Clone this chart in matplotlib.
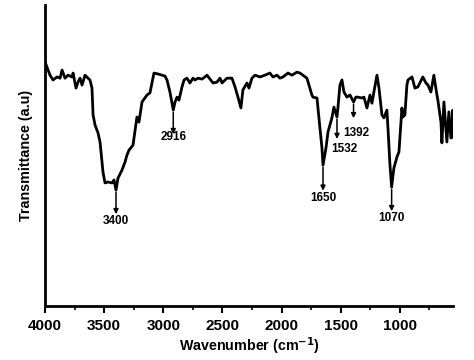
import numpy as np
import matplotlib
matplotlib.use('Agg')
import matplotlib.pyplot as plt
from matplotlib.ticker import MultipleLocator

# FTIR spectrum (wavenumber in cm-1, transmittance in a.u.)
wavenumber = [4000, 3958, 3932, 3899, 3873, 3856, 3831, 3806, 3772, 3763, 3738, 3721, 3704,
              3687, 3662, 3637, 3620, 3603, 3594, 3577, 3552, 3535, 3518, 3510, 3493, 3468,
              3434, 3417, 3400, 3383, 3349, 3324, 3307, 3290, 3256, 3223, 3206, 3180, 3138,
              3113, 3079, 3045, 3011, 2986, 2969, 2944, 2916, 2901, 2884, 2868, 2842, 2825,
              2800, 2775, 2749, 2732, 2707, 2673, 2648, 2631, 2606, 2580, 2546, 2521, 2504,
              2462, 2420, 2394, 2369, 2344, 2327, 2293, 2276, 2251, 2225, 2183, 2141, 2099,
              2073, 2039, 2014, 1989, 1946, 1913, 1870, 1845, 1820, 1786, 1769, 1744, 1735,
              1701, 1693, 1676, 1659, 1650, 1625, 1608, 1575, 1558, 1532, 1524, 1507, 1490,
              1473, 1448, 1422, 1392, 1372, 1355, 1321, 1304, 1279, 1253, 1236, 1220, 1194,
              1177, 1152, 1135, 1110, 1101, 1084, 1070, 1051, 1025, 1008, 983, 975, 958,
              941, 932, 898, 873, 848, 806, 780, 763, 738, 713, 687, 679, 653, 645, 628,
              603, 586, 569, 552, 548]
transmittance = [81.1, 76.7, 75.1, 76.1, 75.7, 78.4, 75.7, 76.7, 76.1, 77.4, 72.4, 74.4, 75.7,
                 73.4, 76.7, 75.7, 75.1, 72.4, 63.5, 60.1, 57.5, 54.5, 47.8, 44.5, 40.9, 41.2,
                 40.9, 41.9, 38.5, 42.5, 45.2, 47.8, 50.2, 51.8, 53.5, 62.8, 61.1, 67.8, 70.1,
                 70.8, 77.4, 77.1, 76.7, 76.4, 75.1, 71.1, 65.1, 67.8, 69.4, 68.4, 72.8, 75.1,
                 75.7, 74.1, 75.7, 75.1, 75.7, 75.4, 76.1, 76.7, 75.4, 74.1, 74.4, 75.7, 74.1,
                 75.7, 75.7, 72.8, 69.4, 65.8, 71.8, 74.1, 72.4, 75.7, 76.7, 76.1, 76.7, 77.4,
                 76.1, 76.7, 75.7, 76.1, 77.4, 76.7, 77.7, 77.4, 76.7, 75.7, 73.4, 70.1, 69.4,
                 69.1, 65.8, 59.1, 52.5, 46.8, 52.5, 57.8, 62.5, 66.1, 62.8, 65.8, 73.4, 75.1,
                 71.1, 69.4, 70.1, 67.8, 69.4, 69.4, 69.1, 69.4, 65.8, 70.1, 67.4, 71.1, 76.7,
                 72.4, 63.5, 62.5, 65.1, 59.1, 46.8, 39.5, 45.8, 49.5, 51.2, 65.8, 62.8, 63.5,
                 73.4, 75.1, 76.1, 72.4, 72.8, 76.1, 74.1, 73.4, 71.1, 76.7, 70.1, 68.4, 61.1,
                 54.2, 67.8, 54.5, 64.5, 55.8, 65.1, 56.1]

# labelled peaks
peaks = [3400, 2916, 1650, 1532, 1392, 1070]
peak_labels = ['3400', '2916', '1650', '1532', '1392', '1070']

plt.rcParams['font.family'] = ['Liberation Sans', 'DejaVu Sans']
plt.rcParams['font.weight'] = 'bold'
plt.rcParams['mathtext.default'] = 'bf'

fig = plt.figure(figsize=(4.74, 3.6), dpi=100)
ax = fig.add_axes([0.095, 0.15, 0.861, 0.836])

ax.plot(wavenumber, transmittance, color='black', linewidth=2.0)

ax.set_xlim(4000, 550)
ax.set_ylim(0, 100)

# arrows under each labelled band, plus the number
arrow_len = [7.3, 7.3, 7.8, 6.6, 4.7, 7.3]
text_dx = [0, 0, 0, -60, -25, 0]
text_gap = [0.3, -1.0, 0.5, 1.5, 3.0, 0.3]
wn_sorted = wavenumber[::-1]
tr_sorted = transmittance[::-1]
for p, lab, L, dx, gap in zip(peaks, peak_labels, arrow_len, text_dx, text_gap):
    y0 = np.interp(p, wn_sorted, tr_sorted) - 0.7
    y1 = y0 - L
    ax.annotate('', xy=(p, y1), xytext=(p, y0),
                arrowprops=dict(arrowstyle='-|>', color='black', lw=1.1,
                                mutation_scale=7, shrinkA=0, shrinkB=0))
    ax.text(p + dx, y1 - gap, lab, ha='center', va='top', fontsize=8.5,
            fontweight='bold')

ax.spines['top'].set_visible(False)
ax.spines['right'].set_visible(False)
ax.spines['left'].set_linewidth(2)
ax.spines['bottom'].set_linewidth(2)
ax.set_yticks([])
ax.xaxis.set_major_locator(MultipleLocator(500))
ax.xaxis.set_minor_locator(MultipleLocator(250))
ax.tick_params(axis='x', which='major', direction='out', length=5, width=1.5,
               labelsize=11, pad=4)
ax.tick_params(axis='x', which='minor', direction='out', length=3, width=1.2)
for t in ax.get_xticklabels():
    t.set_fontweight('bold')

ax.set_xlabel('Wavenumber (cm$^{-1}$)', fontsize=10.3, fontweight='bold', labelpad=2)
ax.set_ylabel('Transmittance (a.u)', fontsize=10.3, fontweight='bold', labelpad=9)

fig.savefig('out.png', dpi=100)
